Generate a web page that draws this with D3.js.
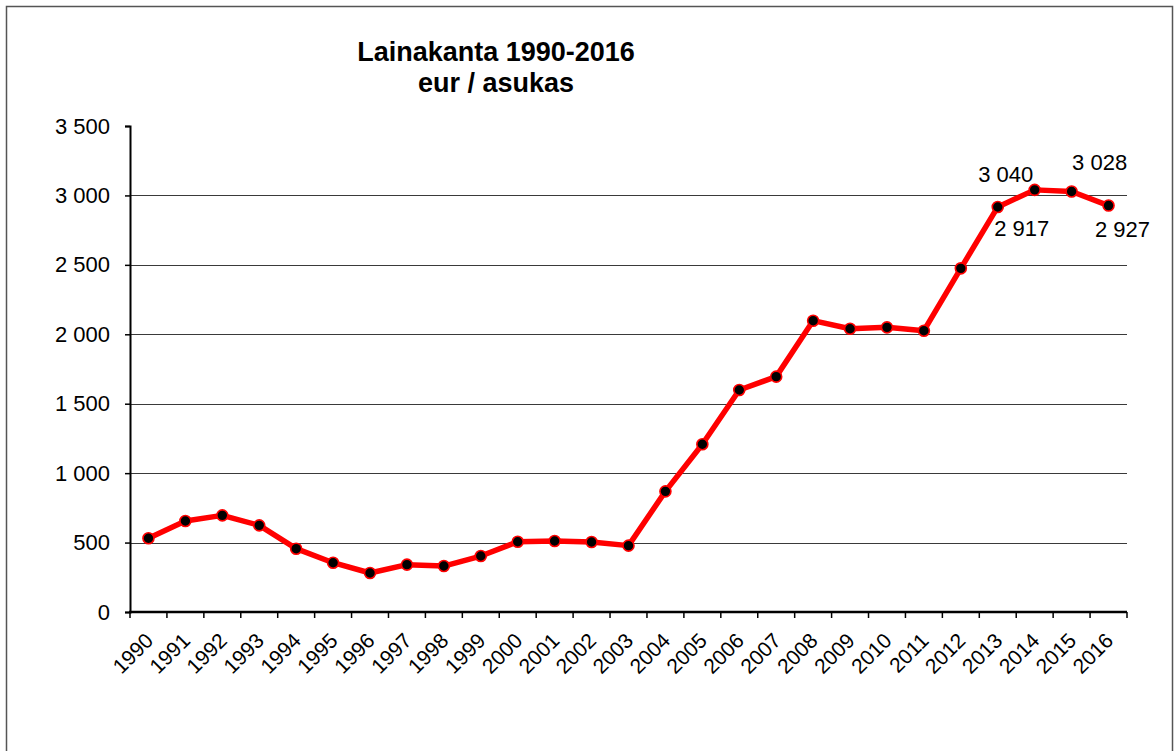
<!DOCTYPE html>
<html>
<head>
<meta charset="utf-8">
<script src="https://cdn.jsdelivr.net/npm/d3@7"></script>
<style>
  html, body { margin: 0; padding: 0; background: #fff; }
  text { font-family: "Liberation Sans", Arial, sans-serif; fill: #000; }
</style>
</head>
<body>
<div id="chart"></div>
<script>
const years = ["1990","1991","1992","1993","1994","1995","1996","1997","1998","1999",
  "2000","2001","2002","2003","2004","2005","2006","2007","2008","2009",
  "2010","2011","2012","2013","2014","2015","2016"];
const loans = [531, 655, 696, 624, 456, 355, 281, 341, 331, 403,
  506, 511, 504, 478, 869, 1208, 1599, 1695, 2098, 2040,
  2050, 2026, 2475, 2917, 3040, 3028, 2927];
const yTicks = [0, 500, 1000, 1500, 2000, 2500, 3000, 3500];
// labelled points: year -> offset of the label from the point
const labelled = [
  {year: "2013", dx: 24, dy: 23},
  {year: "2014", dx: -29, dy: -14},
  {year: "2015", dx: 28, dy: -27},
  {year: "2016", dx: 14, dy: 26}
];

const W = 1175, H = 751;
const margin = {top: 126, right: 48, bottom: 139, left: 130};
const fmt = v => d3.format(",")(v).replace(/,/g, " ");

const svg = d3.select("#chart").append("svg")
  .attr("width", W).attr("height", H);

// outer frame
svg.append("rect")
  .attr("x", 6.5).attr("y", 6.5)
  .attr("width", 1166).attr("height", 760)
  .attr("fill", "none").attr("stroke", "#555").attr("stroke-width", 1.5);

const x = d3.scaleBand().domain(years)
  .range([margin.left, W - margin.right]);
const y = d3.scaleLinear().domain([0, 3500])
  .range([H - margin.bottom, margin.top]);

// gridlines
svg.append("g")
  .selectAll("line")
  .data(yTicks.filter(t => t > 0 && t < 3500))
  .enter().append("line")
  .attr("x1", margin.left).attr("x2", W - margin.right)
  .attr("y1", d => Math.round(y(d)) + 0.5).attr("y2", d => Math.round(y(d)) + 0.5)
  .attr("stroke", "#3a3a3a").attr("stroke-width", 1.2);

// y axis
const yAxis = svg.append("g")
  .attr("transform", `translate(${margin.left},0)`)
  .call(d3.axisLeft(y).tickValues(yTicks).tickFormat(fmt).tickSize(5).tickPadding(15));
yAxis.select(".domain").attr("stroke", "#000").attr("stroke-width", 2);
yAxis.selectAll(".tick line").attr("stroke", "#000").attr("stroke-width", 1.5);
yAxis.selectAll("text").style("font-size", "22px");

// x axis, ticks on category boundaries
const xAxis = svg.append("g")
  .attr("transform", `translate(0,${H - margin.bottom})`);
xAxis.append("line")
  .attr("x1", margin.left - 1).attr("x2", W - margin.right)
  .attr("stroke", "#000").attr("stroke-width", 2.5);
const bounds = years.map(d => x(d)).concat([x(years[years.length - 1]) + x.bandwidth()]);
xAxis.selectAll(".xt").data(bounds).enter().append("line")
  .attr("x1", d => d).attr("x2", d => d)
  .attr("y1", 0).attr("y2", 6)
  .attr("stroke", "#000").attr("stroke-width", 1.5);
xAxis.selectAll(".xl").data(years).enter().append("text")
  .attr("transform", d => `translate(${x(d) + x.bandwidth() / 2 + 6},${30}) rotate(-45)`)
  .attr("text-anchor", "end")
  .style("font-size", "21px")
  .text(d => d);

// line
const cx = (d, i) => x(years[i]) + x.bandwidth() / 2;
const line = d3.line().x(cx).y(d => y(d));
svg.append("path")
  .datum(loans)
  .attr("d", line)
  .attr("fill", "none").attr("stroke", "#ff0000")
  .attr("stroke-width", 5.5).attr("stroke-linejoin", "round");

svg.append("g").selectAll("circle")
  .data(loans).enter().append("circle")
  .attr("cx", cx).attr("cy", d => y(d))
  .attr("r", 5.5)
  .attr("fill", "#000").attr("stroke", "#ff0000").attr("stroke-width", 1.6);

// data labels
svg.append("g").selectAll("text")
  .data(labelled).enter().append("text")
  .attr("x", d => x(d.year) + x.bandwidth() / 2 + d.dx)
  .attr("y", d => y(loans[years.indexOf(d.year)]) + d.dy)
  .attr("text-anchor", "middle").attr("dominant-baseline", "middle")
  .style("font-size", "22px")
  .text(d => fmt(loans[years.indexOf(d.year)]));

// title
const title = svg.append("text")
  .attr("x", 496).attr("y", 61)
  .attr("text-anchor", "middle")
  .style("font-size", "27px").style("font-weight", "bold");
title.append("tspan").attr("x", 496).text("Lainakanta 1990-2016");
title.append("tspan").attr("x", 496).attr("dy", 31).text("eur / asukas");
</script>
</body>
</html>
